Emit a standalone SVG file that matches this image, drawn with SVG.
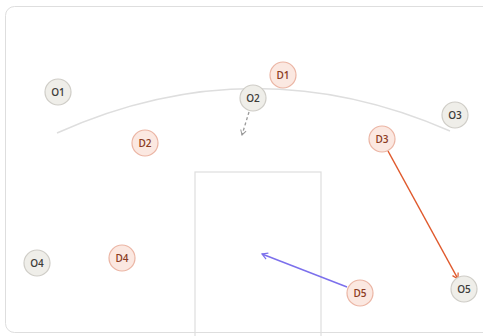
<svg xmlns="http://www.w3.org/2000/svg" width="483" height="336" viewBox="0 0 483 336">
<style>
.o circle{fill:#efeee9;stroke:#cfcdc7;stroke-width:1.2}
.d circle{fill:#fbe8e1;stroke:#ebb5a4;stroke-width:1.2}
.o text{fill:#3d3d3a}
.d text{fill:#8b3b22}
text{font-family:"Open Sans","Liberation Sans",sans-serif;font-size:10px;font-weight:600;text-anchor:middle;dominant-baseline:central}
</style>
<defs>
<marker id="ag" viewBox="0 0 10 10" refX="8" refY="5" markerWidth="7" markerHeight="7" orient="auto-start-reverse" markerUnits="userSpaceOnUse"><path d="M1,1 L8,5 L1,9" fill="none" stroke="#999" stroke-width="1.5"/></marker>
<marker id="ar" viewBox="0 0 10 10" refX="8" refY="5" markerWidth="8" markerHeight="8" orient="auto-start-reverse" markerUnits="userSpaceOnUse"><path d="M1,1 L8,5 L1,9" fill="none" stroke="#e0592c" stroke-width="1.5"/></marker>
<marker id="ab" viewBox="0 0 10 10" refX="8" refY="5" markerWidth="8" markerHeight="8" orient="auto-start-reverse" markerUnits="userSpaceOnUse"><path d="M1,1 L8,5 L1,9" fill="none" stroke="#7c70ec" stroke-width="1.5"/></marker>
</defs>
<rect x="5.5" y="6.5" width="500" height="326" rx="9" fill="#fff" stroke="#dedede" stroke-width="1"/>
<path d="M57,133 Q253,45 450,131" fill="none" stroke="#dedede" stroke-width="1.5"/>
<rect x="195" y="172" width="126" height="175" fill="none" stroke="#dedede" stroke-width="1.2"/>
<g id="connectors">
<line x1="249" y1="112" x2="242" y2="135" stroke="#999" stroke-width="1.3" stroke-dasharray="3,2.5" marker-end="url(#ag)"/>
<line x1="388" y1="151" x2="458" y2="279" stroke="#e0592c" stroke-width="1.5" marker-end="url(#ar)"/>
<line x1="347" y1="287" x2="262" y2="254" stroke="#7c70ec" stroke-width="1.5" marker-end="url(#ab)"/>
</g>
<g id="O1" class="o"><circle cx="58" cy="92" r="13"/><text x="58" y="92">O1</text></g>
<g id="O2" class="o"><circle cx="253" cy="98" r="13"/><text x="253" y="98">O2</text></g>
<g id="O3" class="o"><circle cx="455" cy="115" r="13"/><text x="455" y="115">O3</text></g>
<g id="O4" class="o"><circle cx="37" cy="263" r="13"/><text x="37" y="263">O4</text></g>
<g id="O5" class="o"><circle cx="464" cy="289" r="13"/><text x="464" y="289">O5</text></g>
<g id="D1" class="d"><circle cx="283" cy="75" r="13"/><text x="283" y="75">D1</text></g>
<g id="D2" class="d"><circle cx="145" cy="143" r="13"/><text x="145" y="143">D2</text></g>
<g id="D3" class="d"><circle cx="382" cy="139" r="13"/><text x="382" y="139">D3</text></g>
<g id="D4" class="d"><circle cx="122" cy="258" r="13"/><text x="122" y="258">D4</text></g>
<g id="D5" class="d"><circle cx="360" cy="293" r="13"/><text x="360" y="293">D5</text></g>
</svg>
